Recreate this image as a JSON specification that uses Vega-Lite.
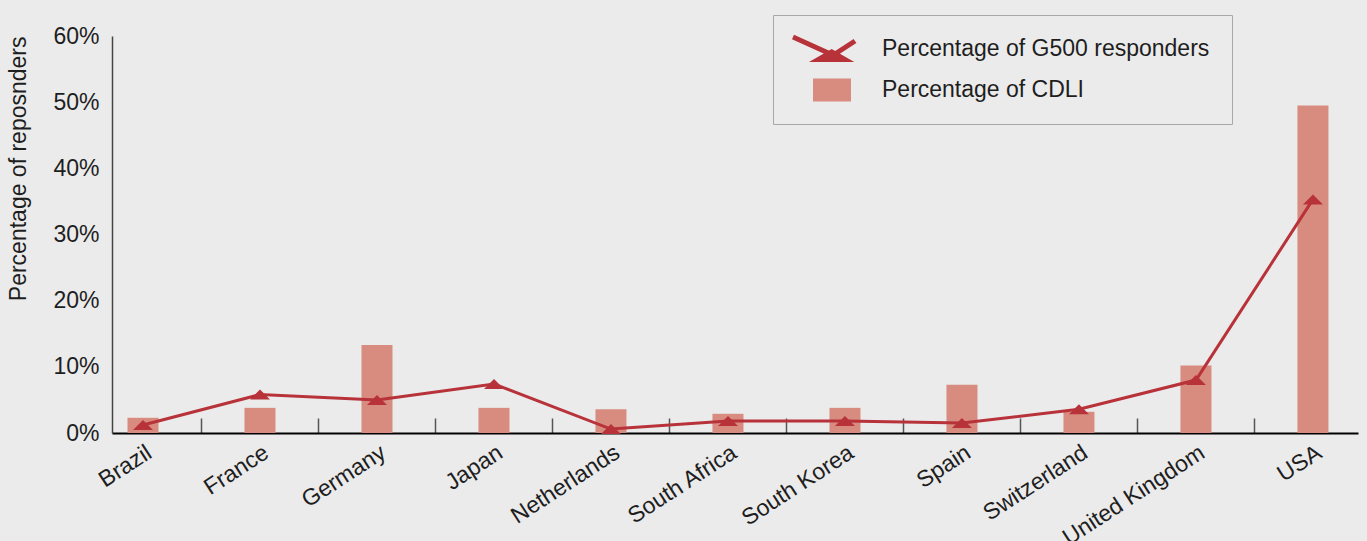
{
  "$schema": "https://vega.github.io/schema/vega-lite/v6.json",
  "width": 1246,
  "height": 397,
  "autosize": "none",
  "padding": {"left": 112, "top": 36, "right": 9, "bottom": 108},
  "background": "#ebebeb",
  "config": {
    "view": {"stroke": null},
    "font": "Liberation Sans",
    "axis": {"labelFont": "Liberation Sans", "titleFont": "Liberation Sans", "labelColor": "#1e1e1e", "titleColor": "#1e1e1e"}
  },
  "data": {
    "values": [
      {"country": "Brazil", "cdli": 0.023, "g500": 0.012},
      {"country": "France", "cdli": 0.038, "g500": 0.058},
      {"country": "Germany", "cdli": 0.133, "g500": 0.050},
      {"country": "Japan", "cdli": 0.038, "g500": 0.074},
      {"country": "Netherlands", "cdli": 0.036, "g500": 0.006},
      {"country": "South Africa", "cdli": 0.029, "g500": 0.018},
      {"country": "South Korea", "cdli": 0.038, "g500": 0.018},
      {"country": "Spain", "cdli": 0.073, "g500": 0.015},
      {"country": "Switzerland", "cdli": 0.032, "g500": 0.036},
      {"country": "United Kingdom", "cdli": 0.102, "g500": 0.080},
      {"country": "USA", "cdli": 0.495, "g500": 0.353}
    ]
  },
  "encoding": {
    "x": {
      "field": "country",
      "type": "nominal",
      "sort": null,
      "scale": {"paddingInner": 0.735, "paddingOuter": 0.1925, "align": 0.344},
      "axis": {
        "title": null,
        "labelAngle": -33,
        "labelFontSize": 23,
        "labelPadding": 23,
        "tickOffset": 58.5,
        "labelOffset": -58.5,
        "tickSize": -15,
        "tickColor": "#555555",
        "tickWidth": 1.5,
        "domainColor": "#000000",
        "domainWidth": 2
      }
    }
  },
  "layer": [
    {
      "mark": {"type": "bar"},
      "encoding": {
        "y": {
          "field": "cdli",
          "type": "quantitative",
          "scale": {"domain": [0, 0.6]},
          "axis": {
            "title": "Percentage of reposnders",
            "titleFontSize": 23,
            "titleFontWeight": "normal",
            "titleAnchor": "end",
            "titlePadding": 22,
            "values": [0, 0.1, 0.2, 0.3, 0.4, 0.5, 0.6],
            "format": ".0%",
            "labelFontSize": 23,
            "labelPadding": 13,
            "ticks": false,
            "grid": false,
            "domainColor": "#444444",
            "domainWidth": 1.5
          }
        },
        "color": {
          "datum": "Percentage of CDLI",
          "scale": {"domain": ["Percentage of G500 responders", "Percentage of CDLI"], "range": ["#b8323a", "#d88c7f"]},
          "legend": {
            "title": null,
            "orient": "none",
            "legendX": 661,
            "legendY": -21,
            "padding": 22,
            "rowPadding": 16,
            "strokeColor": "#a8a8a8",
            "fillColor": "#ebebeb",
            "labelFontSize": 23,
            "labelFont": "Liberation Sans",
            "labelColor": "#1e1e1e",
            "labelLimit": 0,
            "labelOffset": 38,
            "symbolOffset": 25,
            "symbolSize": 576,
            "encode": {
              "symbols": {
                "update": {
                  "shape": {"signal": "datum.value === 'Percentage of CDLI' ? 'M-1.583,-0.95L1.583,-0.95L1.583,0.95L-1.583,0.95Z' : 'M-1.917,1.083L-0.025,0L1.858,1.083Z M-3.167,-1.192L0.333,0.392L0.167,0.775L-3.333,-0.808Z M2.033,-0.492L0.367,0.592L0.133,0.242L1.8,-0.842Z'"},
                  "size": {"value": 576},
                  "fill": {"scale": "color", "field": "value"},
                  "fillOpacity": {"value": 1},
                  "opacity": {"value": 1},
                  "strokeWidth": {"value": 0}
                }
              }
            }
          }
        }
      }
    },
    {
      "mark": {"type": "line", "strokeWidth": 3},
      "encoding": {
        "y": {"field": "g500", "type": "quantitative"},
        "color": {"datum": "Percentage of G500 responders"}
      }
    },
    {
      "mark": {"type": "point", "shape": "M-2,1L0,-1L2,1Z", "size": 100, "filled": true, "opacity": 1, "color": "#b8323a"},
      "encoding": {
        "y": {"field": "g500", "type": "quantitative"}
      }
    }
  ]
}
